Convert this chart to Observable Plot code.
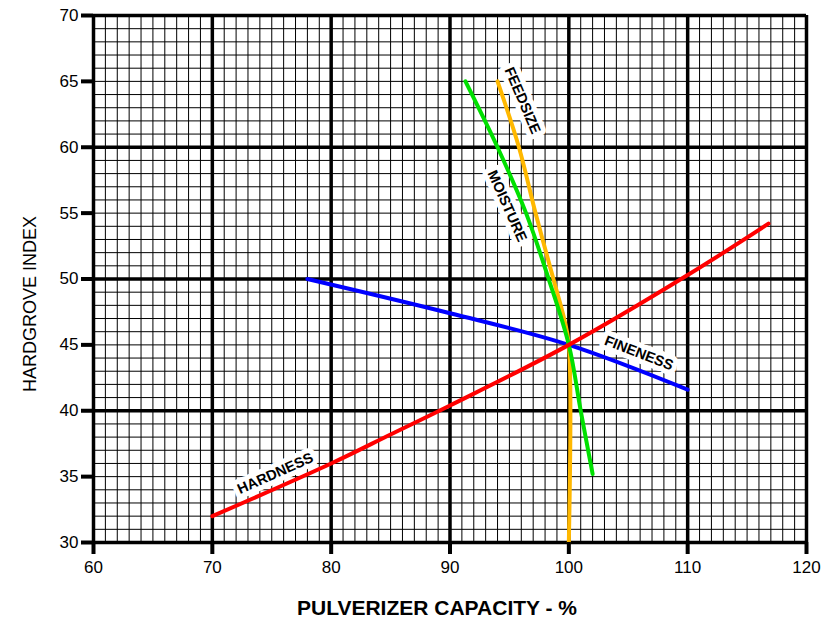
<!DOCTYPE html>
<html>
<head>
<meta charset="utf-8">
<script src="https://cdn.jsdelivr.net/npm/d3@7"></script>
<script src="https://cdn.jsdelivr.net/npm/@observablehq/plot@0.6"></script>
<style>
  html, body { margin: 0; padding: 0; background: #fff; }
  #chart svg { display: block; }
</style>
</head>
<body>
<div id="chart"></div>
<script>
// Axis ticks
const xTicks = [60, 70, 80, 90, 100, 110, 120];
const yTicks = [30, 35, 40, 45, 50, 55, 60, 65, 70];
const xMajor = [60, 70, 80, 90, 100, 110, 120];
const yMajor = [30, 40, 50, 60, 70];
const xMinor = d3.range(60, 121, 1);
const yMinor = d3.range(30, 71, 1);

// Series (pulverizer capacity %, Hardgrove index)
const hardnessX = [70, 80, 85, 90, 100, 110, 116.8];
const hardnessY = [32, 36, 38.2, 40.4, 45, 50.3, 54.2];
const finenessX = [78, 90, 100, 110];
const finenessY = [50, 47.4, 45, 41.6];
const moistureX = [91.3, 94, 96.4, 98.3, 100, 101, 102];
const moistureY = [65, 60, 55, 50, 45, 40, 35.2];
const feedsizeX = [94, 95.8, 97.2, 98.7, 99.6, 100, 100];
const feedsizeY = [65, 60, 55, 50, 47, 45, 30];

// Labels
const labelText = ["FEEDSIZE", "MOISTURE", "FINENESS", "HARDNESS"];
const labelX = [96.1, 94.8, 105.9, 75.3];
const labelY = [63.55, 55.54, 44.38, 35.24];
const labelAngle = [67, 66, 21, -24];

const toRows = (xs, ys) => xs.map((x, i) => ({x, y: ys[i]}));
const hardness = toRows(hardnessX, hardnessY);
const fineness = toRows(finenessX, finenessY);
const moisture = toRows(moistureX, moistureY);
const feedsize = toRows(feedsizeX, feedsizeY);
const labels = labelText.map((t, i) => ({t, x: labelX[i], y: labelY[i], a: labelAngle[i]}));

const chart = Plot.plot({
  width: 826,
  height: 620,
  marginLeft: 93,
  marginRight: 20,
  marginTop: 15,
  marginBottom: 78,
  style: {fontFamily: "'Liberation Sans', Arial, sans-serif", background: "#fff", color: "#000"},
  x: {domain: [60, 120]},
  y: {domain: [30, 70]},
  marks: [
    Plot.ruleX(xMinor, {stroke: "#000", strokeWidth: 1}),
    Plot.ruleY(yMinor, {stroke: "#000", strokeWidth: 1}),
    Plot.ruleX(xMajor, {stroke: "#000", strokeWidth: 3.5}),
    Plot.ruleY(yMajor, {stroke: "#000", strokeWidth: 3.5}),
    Plot.line(fineness, {x: "x", y: "y", stroke: "#0000ff", strokeWidth: 4, curve: "catmull-rom"}),
    Plot.line(feedsize, {x: "x", y: "y", stroke: "#ffb800", strokeWidth: 4, curve: "catmull-rom"}),
    Plot.line(moisture, {x: "x", y: "y", stroke: "#00e000", strokeWidth: 4, curve: "catmull-rom"}),
    Plot.line(hardness, {x: "x", y: "y", stroke: "#ff0000", strokeWidth: 4, curve: "catmull-rom"}),
    Plot.text(labels, {
      x: "x", y: "y", text: "t", rotate: "a",
      fontSize: 14.5, fontWeight: "bold", fill: "#000",
      stroke: "#fff", strokeWidth: 10, strokeLinejoin: "round"
    }),
    Plot.axisX(xTicks, {
      tickSize: 12, tickPadding: 6, strokeWidth: 4, fontSize: 17,
      label: null
    }),
    Plot.axisY(yTicks, {
      tickSize: 12, tickPadding: 3, strokeWidth: 4, fontSize: 17,
      label: null
    }),
    Plot.text(["PULVERIZER CAPACITY - %"], {
      frameAnchor: "bottom", lineAnchor: "bottom", textAnchor: "middle", dx: -13, dy: 72,
      fontSize: 21, fontWeight: "bold", fill: "#000"
    }),
    Plot.text(["HARDGROVE INDEX"], {
      frameAnchor: "left", textAnchor: "middle", rotate: -90, dx: -63, dy: 25,
      fontSize: 18, fill: "#000"
    })
  ]
});

document.getElementById("chart").appendChild(chart);
</script>
</body>
</html>
